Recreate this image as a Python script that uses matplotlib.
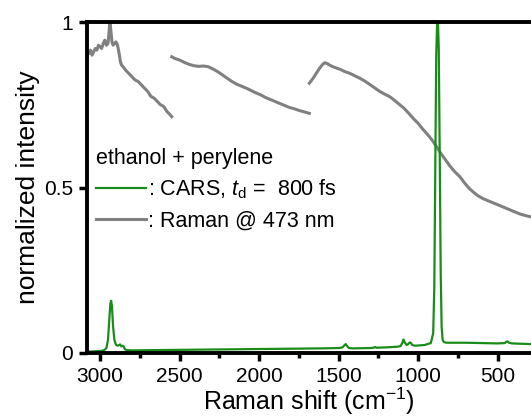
import matplotlib
matplotlib.use("Agg")
import matplotlib.pyplot as plt
import numpy as np

plt.rcParams['font.family'] = ['Liberation Sans', 'DejaVu Sans']
plt.rcParams['mathtext.fontset'] = 'custom'
plt.rcParams['mathtext.rm'] = 'Liberation Sans'
plt.rcParams['mathtext.it'] = 'Liberation Sans:italic'

# CARS spectrum (green)
cars_x = [3082, 3040, 3000, 2975, 2960, 2950, 2942, 2935, 2930, 2925, 2918, 2910,
          2900, 2890, 2880, 2874, 2866, 2858, 2853, 2845, 2835, 2800, 2600, 2400,
          2200, 2000, 1800, 1600, 1500, 1475, 1462, 1455, 1448, 1435, 1410, 1300,
          1280, 1270, 1260, 1200, 1130, 1110, 1100, 1092, 1084, 1072, 1062, 1052,
          1045, 1036, 1020, 960, 920, 905, 898, 892, 886, 880, 875, 870, 864,
          858, 852, 846, 838, 820, 700, 600, 500, 455, 445, 437, 428, 410, 360, 290]
cars_y = [0.004, 0.005, 0.006, 0.008, 0.015, 0.04, 0.10, 0.15, 0.158, 0.14, 0.08, 0.04,
          0.025, 0.022, 0.024, 0.026, 0.020, 0.022, 0.021, 0.012, 0.009, 0.008, 0.009, 0.010,
          0.011, 0.012, 0.013, 0.014, 0.015, 0.017, 0.024, 0.027, 0.022, 0.015, 0.014, 0.015,
          0.016, 0.018, 0.016, 0.017, 0.019, 0.021, 0.030, 0.041, 0.032, 0.024, 0.027, 0.032,
          0.030, 0.024, 0.022, 0.024, 0.03, 0.06, 0.2, 0.55, 0.9, 1.0, 1.0, 0.92, 0.6,
          0.25, 0.08, 0.04, 0.033, 0.031, 0.031, 0.030, 0.029, 0.030, 0.034, 0.035, 0.031, 0.029, 0.028, 0.027]

# Raman spectrum @ 473 nm (grey), three stitched windows
raman1_x = [3082, 3070, 3060, 3050, 3040, 3030, 3020, 3010, 3000, 2990, 2980, 2970,
            2960, 2950, 2945, 2938, 2932, 2925, 2918, 2910, 2900, 2890, 2880, 2872,
            2865, 2855, 2840, 2820, 2800, 2780, 2760, 2740, 2720, 2700, 2680, 2660,
            2640, 2620, 2600, 2580, 2560, 2549]
raman1_y = [0.91, 0.905, 0.915, 0.90, 0.91, 0.92, 0.915, 0.93, 0.925, 0.92, 0.935, 0.945,
            0.93, 0.935, 0.96, 1.0, 0.975, 0.94, 0.93, 0.935, 0.94, 0.93, 0.905, 0.88,
            0.87, 0.865, 0.855, 0.845, 0.835, 0.825, 0.82, 0.81, 0.80, 0.79, 0.775, 0.77,
            0.76, 0.75, 0.745, 0.73, 0.72, 0.714]
raman2_x = [2549, 2530, 2500, 2470, 2440, 2410, 2380, 2350, 2320, 2290, 2260, 2230,
            2200, 2170, 2140, 2110, 2080, 2050, 2020, 1990, 1960, 1930, 1900, 1870,
            1840, 1810, 1780, 1750, 1720, 1684]
raman2_y = [0.895, 0.89, 0.885, 0.878, 0.872, 0.868, 0.866, 0.867, 0.865, 0.858, 0.85, 0.84,
            0.83, 0.82, 0.812, 0.806, 0.80, 0.793, 0.786, 0.78, 0.772, 0.766, 0.76, 0.754,
            0.748, 0.742, 0.738, 0.733, 0.729, 0.724]
raman3_x = [1684, 1660, 1640, 1620, 1600, 1586, 1570, 1550, 1520, 1490, 1460, 1430,
            1400, 1366, 1330, 1300, 1270, 1240, 1210, 1177, 1150, 1120, 1090, 1060,
            1031, 1000, 970, 940, 910, 884, 860, 830, 800, 770, 738, 710, 680, 650,
            620, 590, 570, 540, 510, 480, 450, 420, 390, 360, 330, 298]
raman3_y = [0.815, 0.83, 0.845, 0.86, 0.872, 0.877, 0.874, 0.868, 0.862, 0.857, 0.85, 0.845,
            0.838, 0.83, 0.82, 0.81, 0.80, 0.79, 0.782, 0.774, 0.764, 0.752, 0.74, 0.725,
            0.709, 0.694, 0.676, 0.66, 0.642, 0.623, 0.605, 0.585, 0.565, 0.548, 0.533, 0.515,
            0.498, 0.485, 0.474, 0.466, 0.462, 0.456, 0.45, 0.444, 0.438, 0.432, 0.426, 0.42, 0.416, 0.412]

green = '#1a8c1a'
grey = '#808080'

fig = plt.figure(figsize=(5.31, 4.18), dpi=100)
ax = fig.add_axes([87/531, 65/418, 444/531, 331/418])

ax.plot(raman1_x, raman1_y, color=grey, lw=2.2)
ax.plot(raman2_x, raman2_y, color=grey, lw=2.2)
l2, = ax.plot(raman3_x, raman3_y, color=grey, lw=2.2)
l1, = ax.plot(cars_x, cars_y, color=green, lw=1.6)

ax.set_xlim(3082, 290)
ax.set_ylim(0, 1)
ax.set_xticks([3000, 2500, 2000, 1500, 1000, 500])
ax.set_xticks([2750, 2250, 1750, 1250, 750], minor=True)
ax.set_yticks([0, 0.5, 1])
ax.set_yticklabels(['0', '0.5', '1'])

for s in ['left', 'bottom', 'top']:
    ax.spines[s].set_linewidth(2.8)
ax.spines['right'].set_visible(False)
ax.tick_params(which='major', direction='out', length=6, width=2.5, labelsize=15, pad=4)
ax.tick_params(which='minor', direction='out', length=3.5, width=2.5)

ax.set_xlabel('Raman shift (cm$^{-1}$)', fontsize=18, labelpad=0)
ax.set_ylabel('normalized intensity', fontsize=19, labelpad=3)

leg = ax.legend([l1, l2], [': CARS, $t_\\mathrm{d}$ =  800 fs', ': Raman @ 473 nm'],
                title='ethanol + perylene', loc='upper left', bbox_to_anchor=(0.02, 0.62),
                frameon=False, fontsize=15.5, title_fontsize=15.5, handlelength=2.35,
                handletextpad=0.05, labelspacing=0.42, borderaxespad=0, borderpad=0)
leg._legend_box.align = 'left'

fig.savefig('out.png', dpi=100)
